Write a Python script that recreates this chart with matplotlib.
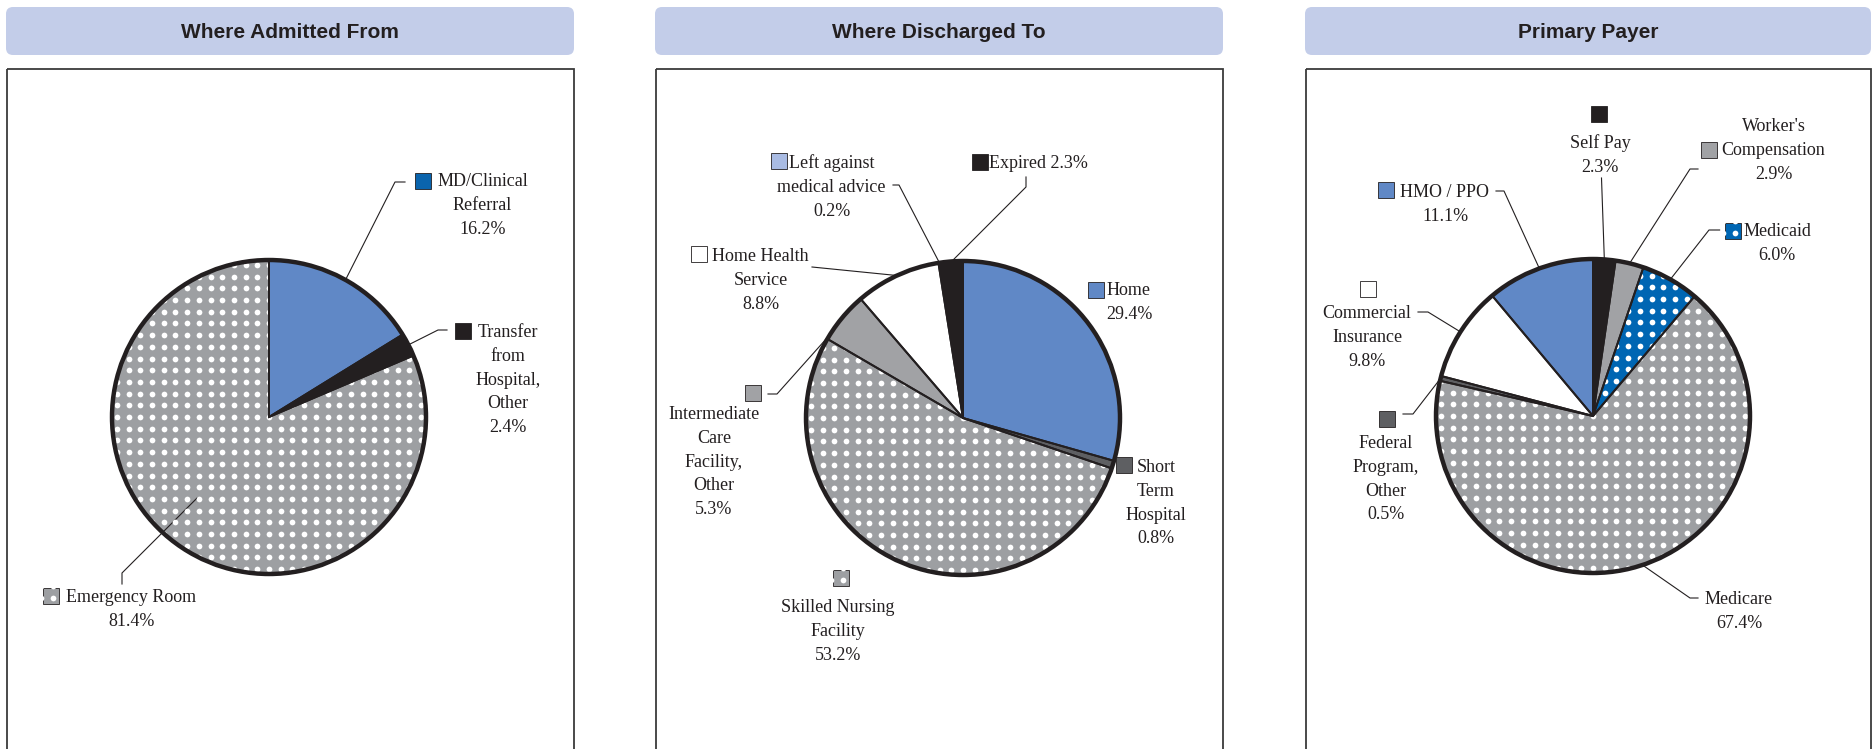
import numpy as np
import matplotlib.pyplot as plt
from matplotlib.patches import Rectangle, FancyBboxPatch, Circle

# ---- data ----
titles = ["Where Admitted From", "Where Discharged To", "Primary Payer"]

admit_names = ["MD/Clinical\nReferral", "Transfer\nfrom\nHospital,\nOther", "Emergency Room"]
admit_values = [16.2, 2.4, 81.4]

discharge_names = ["Home", "Short\nTerm\nHospital", "Skilled Nursing\nFacility",
                   "Intermediate\nCare\nFacility,\nOther", "Home Health\nService",
                   "Left against\nmedical advice", "Expired"]
discharge_values = [29.4, 0.8, 53.2, 5.3, 8.8, 0.2, 2.3]

payer_names = ["Self Pay", "Worker's\nCompensation", "Medicaid", "Medicare",
               "Federal\nProgram,\nOther", "Commercial\nInsurance", "HMO / PPO"]
payer_values = [2.3, 2.9, 6.0, 67.4, 0.5, 9.8, 11.1]

# ---- styles ----
INK = '#231f20'
BLUE = '#6088c6'
DOTGRAY = '#9d9fa2'
GRAY = '#a1a2a5'
DARK = '#5e5f62'
LIGHTBLUE = '#a9bbe3'
MEDBLUE = '#0066b3'
HEADER = '#c3cde9'

admit_colors = [BLUE, INK, DOTGRAY]
admit_dotted = [False, False, True]
discharge_colors = [BLUE, DARK, DOTGRAY, GRAY, 'white', LIGHTBLUE, INK]
discharge_dotted = [False, False, True, False, False, False, False]
payer_colors = [INK, GRAY, MEDBLUE, DOTGRAY, DARK, 'white', BLUE]
payer_dotted = [False, False, True, True, False, False, False]

# ---- layout (pixel coordinates, y from top) ----
W, H = 1875, 749
LH = 23.8          # line height of labels
SQ = 16            # legend square size
R = 157            # pie radius

# label layout: text centre x, first line y, square centre, leader points, anchor override
admit_layout = [
    dict(tx=482.5, ty=180, sq=(422.5, 181), sqc='#0a64ad', lead=[(405, 182), (395, 182)]),
    dict(tx=508, ty=331, sq=(462.5, 331), lead=[(447, 330), (438, 330)]),
    dict(tx=131.5, ty=596, sq=(50.5, 596), lead=[(122, 584), (122, 573)], anchor=(-131.6, 0.69)),
]
discharge_layout = [
    dict(tx=1129, ty=289, sq=(1095.5, 289.5), lead=None),
    dict(tx=1156, ty=466, sq=(1123.5, 465), lead=None),
    dict(tx=838, ty=606, sq=(841, 577.5), lead=None),
    dict(tx=714, ty=413, sq=(752.5, 392.5), lead=[(768, 394), (777, 394)], anchor=(148, 1.0)),
    dict(tx=760.5, ty=255, sq=(699, 254), lead=[(812, 267)]),
    dict(tx=831.5, ty=162, sq=(779, 161), lead=[(893, 185), (899, 185)]),
    dict(tx=1038.5, ty=162, sq=(979.5, 162), lead=[(1026, 177), (1026, 187)], inline=True),
]
payer_layout = [
    dict(tx=1600, ty=142, sq=(1599, 113.5), lead=[(1601.5, 178)]),
    dict(tx=1773.5, ty=125, sq=(1708.5, 150), lead=[(1698, 169), (1690, 169)]),
    dict(tx=1777, ty=230, sq=(1732.5, 230.5), lead=[(1719.6, 230), (1709, 230)]),
    dict(tx=1739, ty=598, sq=None, lead=[(1698, 598), (1690, 598)]),
    dict(tx=1386, ty=442, sq=(1387, 418.5), lead=[(1403, 414), (1413, 414)]),
    dict(tx=1367, ty=312, sq=(1367.5, 289), lead=[(1418, 312), (1428, 312)]),
    dict(tx=1445, ty=191, sq=(1386, 189.5), lead=[(1496, 191), (1504, 191)]),
]

panels = [
    dict(x0=6, x1=574, cx=269, cy=417, names=admit_names, values=admit_values,
         colors=admit_colors, dotted=admit_dotted, layout=admit_layout),
    dict(x0=655, x1=1223, cx=963, cy=418, names=discharge_names, values=discharge_values,
         colors=discharge_colors, dotted=discharge_dotted, layout=discharge_layout),
    dict(x0=1305, x1=1871, cx=1593, cy=416, names=payer_names, values=payer_values,
         colors=payer_colors, dotted=payer_dotted, layout=payer_layout),
]

SERIF = 'Liberation Serif'
SANS = 'Liberation Sans'

fig = plt.figure(figsize=(W / 100, H / 100), dpi=100)
ax = fig.add_axes([0, 0, 1, 1])
ax.set_autoscale_on(False)
ax.set_xlim(0, W)
ax.set_ylim(H, 0)


def add_dots(patch, cx, cy, x0, x1, y0, y1, step=11.7, z=2):
    # white dot texture clipped to a patch, grid aligned on the pie centre
    xs = cx + step * np.arange(np.floor((x0 - cx) / step), np.ceil((x1 - cx) / step) + 1)
    ys = cy + step * np.arange(np.floor((y0 - cy) / step), np.ceil((y1 - cy) / step) + 1)
    gx, gy = np.meshgrid(xs, ys)
    dots = ax.scatter(gx.ravel(), gy.ravel(), s=17, c='white', linewidths=0, zorder=z)
    dots.set_clip_path(patch)


for i, p in enumerate(panels):
    x0, x1, cx, cy = p['x0'], p['x1'], p['cx'], p['cy']

    # header box and panel frame
    ax.add_patch(FancyBboxPatch((x0, 7), x1 - x0, 48, boxstyle='round,pad=0,rounding_size=7',
                                fc=HEADER, ec='none'))
    ax.text((x0 + x1) / 2, 32, titles[i], ha='center', va='center',
            fontsize=15, fontweight='bold', family=SANS, color=INK)
    ax.add_patch(Rectangle((x0 + 1, 69), x1 - x0 - 1, 720, fill=False, ec='#3a3a3a', lw=1.3))

    # pie fills
    wedges, _ = ax.pie(p['values'], colors=p['colors'], startangle=-90, counterclock=True,
                       center=(cx, cy), radius=R, frame=True,
                       wedgeprops=dict(linewidth=0, zorder=1))
    for w, d in zip(wedges, p['dotted']):
        if d:
            add_dots(w, cx, cy, cx - R, cx + R, cy - R, cy + R)
    # slice edges above the dots
    ax.pie(p['values'], colors=['none'] * len(p['values']), startangle=-90, counterclock=True,
           center=(cx, cy), radius=R, frame=True,
           wedgeprops=dict(linewidth=1.4, edgecolor=INK, zorder=2.5))
    ax.add_patch(Circle((cx, cy), R, fill=False, ec=INK, lw=3.2, zorder=3))

    # labels, squares, leaders
    for w, name, val, col, dot, lay in zip(wedges, p['names'], p['values'], p['colors'],
                                           p['dotted'], p['layout']):
        pct = f"{val:.1f}%"
        lines = [f"{name} {pct}"] if lay.get('inline') else name.split("\n") + [pct]
        for k, line in enumerate(lines):
            ax.text(lay['tx'], lay['ty'] + k * LH + 6, line, ha='center', va='baseline',
                    fontsize=13, family=SERIF, color=INK, zorder=4)
        if lay['sq'] is not None:
            sx, sy = lay['sq']
            sq = Rectangle((sx - SQ / 2, sy - SQ / 2), SQ, SQ, fc=lay.get('sqc', col),
                           ec=INK, lw=0.6, zorder=4)
            ax.add_patch(sq)
            if dot:
                add_dots(sq, sx + 2, sy + 2, sx - SQ, sx + SQ, sy - SQ, sy + SQ, z=4.5)
        if lay['lead'] is not None:
            if 'anchor' in lay:
                a, rf = lay['anchor']
                ax_, ay_ = cx + R * rf * np.cos(np.radians(a)), cy - R * rf * np.sin(np.radians(a))
            else:
                tm = np.radians((w.theta1 + w.theta2) / 2)
                ax_, ay_ = cx + R * np.cos(tm), cy + R * np.sin(tm)
            pts = lay['lead'] + [(ax_, ay_)]
            ax.plot([q[0] for q in pts], [q[1] for q in pts], color=INK, lw=0.8, zorder=1.5)

ax.set_xlim(0, W)
ax.set_ylim(H, 0)
ax.set_aspect('equal')
ax.set_axis_off()

fig.savefig('out.png', dpi=100)
